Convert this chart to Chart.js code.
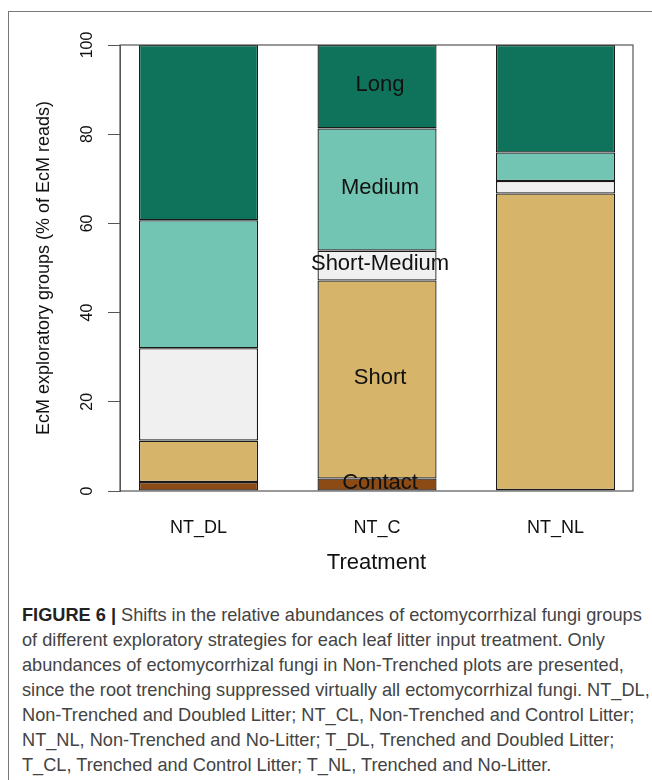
<!DOCTYPE html>
<html>
<head>
<meta charset="utf-8">
<script src="https://cdn.jsdelivr.net/npm/chart.js@4.4.1/dist/chart.umd.min.js"></script>
<style>
  html, body { margin: 0; padding: 0; background: #fff; }
  #wrap { position: relative; width: 652px; height: 780px; overflow: hidden; }
  #frame {
    position: absolute; left: 8px; top: 11px; width: 700px; height: 800px;
    border-top: 1.5px solid #777; border-left: 1.5px solid #777;
  }
  #chart { position: absolute; left: 0; top: 0; }
  #caption {
    position: absolute; left: 22px; top: 603px;
    font-family: "Liberation Sans", Arial, sans-serif;
    font-size: 18.2px; line-height: 25px; color: #444; white-space: nowrap;
  }
  #caption b { color: #222; }
</style>
</head>
<body>
<div id="wrap">
  <div id="frame"></div>
  <canvas id="chart" width="652" height="580"></canvas>
  <div id="caption">
    <b>FIGURE 6 |</b> Shifts in the relative abundances of ectomycorrhizal fungi groups<br>
    of different exploratory strategies for each leaf litter input treatment. Only<br>
    abundances of ectomycorrhizal fungi in Non-Trenched plots are presented,<br>
    since the root trenching suppressed virtually all ectomycorrhizal fungi. NT_DL,<br>
    Non-Trenched and Doubled Litter; NT_CL, Non-Trenched and Control Litter;<br>
    NT_NL, Non-Trenched and No-Litter; T_DL, Trenched and Doubled Litter;<br>
    T_CL, Trenched and Control Litter; T_NL, Trenched and No-Litter.
  </div>
</div>

<script>
// ---------- DATA ----------
const treatments = ["NT_DL", "NT_C", "NT_NL"];
const groups = ["Contact", "Short", "Short-Medium", "Medium", "Long"];

// % of EcM reads, bottom to top
const contact     = [2.0, 2.8, 0.2];
const short       = [9.3, 44.4, 66.5];
const shortMedium = [20.7, 6.7, 2.8];
const medium      = [28.7, 27.4, 6.4];
const long        = [39.3, 18.7, 24.1];

const yTicks = [0, 20, 40, 60, 80, 100];

const groupColors = ["#8c4a14", "#d6b56a", "#f0f0f0", "#72c4b3", "#0f735c"];

// ---------- HELPERS ----------
const FONT = "'Liberation Sans', Arial, sans-serif";
const seriesValues = [contact, short, shortMedium, medium, long];

function toPoints(values) {
  return values.map((v, i) => ({ x: i + 1, y: v }));
}

// box round the plot + group names inside the middle bar
const segmentLabels = {
  id: "segmentLabels",
  afterDatasetsDraw(chart) {
    const ctx = chart.ctx;
    const area = chart.chartArea;
    ctx.save();
    ctx.strokeStyle = "#555";
    ctx.lineWidth = 1.2;
    ctx.strokeRect(area.left, area.top, area.right - area.left, area.bottom - area.top);
    ctx.restore();

    ctx.save();
    ctx.font = "22px " + FONT;
    ctx.fillStyle = "#111";
    ctx.textAlign = "center";
    ctx.textBaseline = "middle";
    chart.data.datasets.forEach((ds, i) => {
      const bar = chart.getDatasetMeta(i).data[1];
      if (!bar) return;
      const c = bar.getCenterPoint();
      ctx.fillText(ds.label, c.x + 3, c.y - 2);
    });
    ctx.restore();
  }
};

// ---------- CHART ----------
new Chart(document.getElementById("chart"), {
  type: "bar",
  data: {
    datasets: groups.map((g, i) => ({
      label: g,
      data: toPoints(seriesValues[i]),
      backgroundColor: groupColors[i],
      borderColor: "#1a1a1a",
      borderWidth: 1.3,
      borderSkipped: false,
      barPercentage: 0.667,
      categoryPercentage: 1,
    })),
  },
  options: {
    responsive: false,
    animation: false,
    layout: { padding: { top: 45, right: 19, bottom: 3, left: 0 } },
    plugins: { legend: { display: false }, tooltip: { enabled: false } },
    scales: {
      x: {
        type: "linear",
        stacked: true,
        offset: false,
        bounds: "data",
        min: 0.56,
        max: 3.434,
        grid: { display: false, drawTicks: false },
        border: { display: false },
        afterBuildTicks(scale) { scale.ticks = treatments.map((t, i) => ({ value: i + 1 })); },
        ticks: {
          autoSkip: false,
          padding: 26,
          color: "#111",
          font: { family: FONT, size: 18 },
          maxRotation: 0,
          callback: (v) => treatments[Math.round(v) - 1] ?? String(v),
        },
        title: {
          display: true,
          text: "Treatment",
          color: "#111",
          font: { family: FONT, size: 22 },
          padding: { top: 0, bottom: 1 },
        },
        afterFit(scale) { scale.height = 86; },
      },
      y: {
        stacked: true,
        min: 0,
        max: 100,
        grid: { drawOnChartArea: false, tickLength: 12, color: "#555", lineWidth: 1 },
        border: { display: true, color: "#555", width: 1 },
        afterBuildTicks(scale) { scale.ticks = yTicks.map(v => ({ value: v })); },
        ticks: {
          minRotation: 90,
          maxRotation: 90,
          crossAlign: "center",
          padding: 7,
          color: "#111",
          font: { family: FONT, size: 16 },
        },
        title: {
          display: true,
          text: "EcM exploratory groups (% of EcM reads)",
          color: "#111",
          font: { family: FONT, size: 18 },
          padding: { top: 33, bottom: 0 },
        },
        afterFit(scale) { scale.width = 120; },
      },
    },
  },
  plugins: [segmentLabels],
});
</script>
</body>
</html>
